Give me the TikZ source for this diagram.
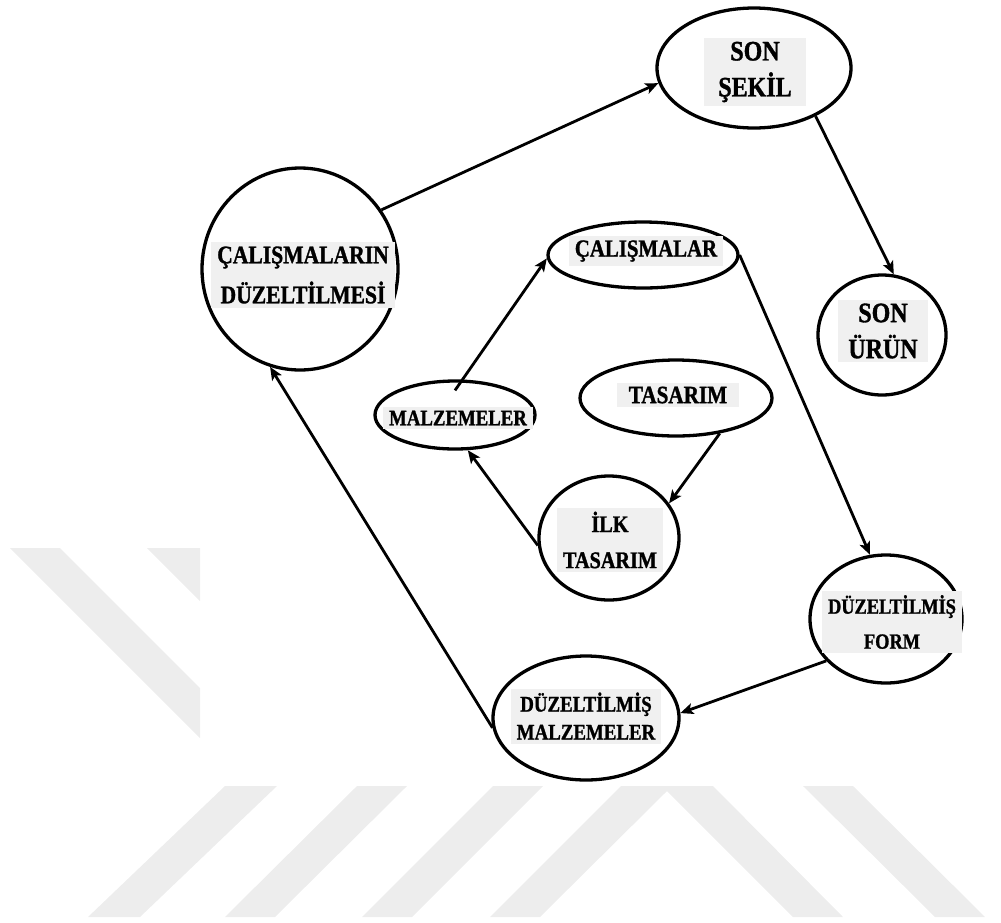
\documentclass[tikz,border=0pt]{standalone}
\usepackage{fontspec}
\setmainfont{Liberation Serif}
\newfontfamily\labfont{Liberation Serif}[FakeStretch=0.85,FakeBold=1.2]
\usetikzlibrary{shapes.geometric,arrows.meta}
\definecolor{stripe}{HTML}{EDEDED}
\definecolor{labbg}{HTML}{F0F0F0}
\begin{document}
\begin{tikzpicture}[x=1pt,y=-1pt,
  bub/.style={draw=black,line width=3.3pt,ellipse,inner sep=0pt},
  lab/.style 2 args={fill=labbg,inner xsep=6pt,inner ysep=4pt,align=center,
    font=\labfont\fontsize{#1}{#2}\selectfont\bfseries},
  arr/.style={line width=2.8pt,-{Stealth[length=13pt,width=11pt,inset=3pt]}},
]
\useasboundingbox (0,0) rectangle (1001,922);

% background stripes
\fill[stripe] (10,548) -- (60,548) -- (200,688) -- (200,738) -- cycle;
\fill[stripe] (147,548) -- (200,548) -- (200,601) -- cycle;
\fill[stripe] (88,917) -- (225,786) -- (277,786) -- (140,917) -- cycle;
\fill[stripe] (225,917) -- (357,786) -- (407,786) -- (275,917) -- cycle;
\fill[stripe] (362,917) -- (493,786) -- (543,786) -- (412,917) -- cycle;
\fill[stripe] (490,917) -- (621,786) -- (713,786) -- (843,917) -- (793,917)
  -- (667,791) -- (540,917) -- cycle;
\fill[stripe] (803,786) -- (853,786) -- (985,917) -- (935,917) -- cycle;

% bubbles
\node[bub,minimum width=194pt,minimum height=120pt] (sonsekil) at (754,68) {};
\node[bub,minimum width=128pt,minimum height=120pt] (sonurun) at (882,335) {};
\node[bub,minimum width=196pt,minimum height=202pt] (calduz) at (300,269) {};
\node[bub,minimum width=190pt,minimum height=66pt] (calis) at (643,255) {};
\node[bub,minimum width=160pt,minimum height=68pt] (malz) at (455,415) {};
\node[bub,minimum width=192pt,minimum height=76pt] (tasarim) at (676,398) {};
\node[bub,minimum width=140pt,minimum height=124pt] (ilk) at (609,538) {};
\node[bub,minimum width=152pt,minimum height=128pt] (dform) at (886,619) {};
\node[bub,minimum width=186pt,minimum height=124pt] (dmalz) at (586,718) {};

% labels
\node[lab={28.2}{36},inner xsep=14pt] (sonsekil-t) at (755,72) {SON\\ŞEKİL};
\node[lab={28.2}{36},inner xsep=10pt] (sonurun-t) at (883,331) {SON\\ÜRÜN};
\node[lab={25.4}{40}] (calduz-t) at (303,275) {ÇALIŞMALARIN\\DÜZELTİLMESİ};
\node[lab={24.5}{28}] (calis-t) at (646,251) {ÇALIŞMALAR};
\node[lab={22.1}{26}] (malz-t) at (458,418) {MALZEMELER};
\node[lab={24.9}{28},inner xsep=12pt] (tasarim-t) at (678,395) {TASARIM};
\node[lab={23.8}{36}] (ilk-t) at (610,540) {İLK\\TASARIM};
\node[lab={21.6}{35}] (dform-t) at (892,622) {DÜZELTİLMİŞ\\FORM};
\node[lab={22.2}{28}] (dmalz-t) at (586,716) {DÜZELTİLMİŞ\\MALZEMELER};

% connectors
\draw[arr] (calduz.36) -- (sonsekil.189);
\draw[arr] (sonsekil.-38) -- (sonurun.79);
\draw[arr] ([yshift=-11pt]malz.north) -- (calis.182);
\draw[arr] (calis.east) -- (dform.104);
\draw[arr] (tasarim.-39) -- (ilk.30);
\draw[arr] (ilk.186) -- (malz.-70);
\draw[arr] (dform.215) -- (dmalz.3);
\draw[arr] (dmalz.186) -- (calduz.253);
\end{tikzpicture}
\end{document}
